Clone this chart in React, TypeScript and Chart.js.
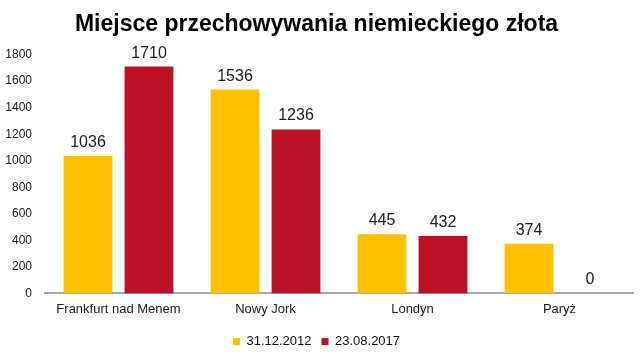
import React, { useEffect, useRef } from "react";
import { Chart, registerables } from "chart.js";

Chart.register(...registerables);

const categories = ["Frankfurt nad Menem", "Nowy Jork", "Londyn", "Paryż"];
const series2012 = [1036, 1536, 445, 374];
const series2017 = [1710, 1236, 432, 0];
const seriesLabels = ["31.12.2012", "23.08.2017"];
const titleText = "Miejsce przechowywania niemieckiego złota";

const FONT = "'Liberation Sans', Arial, sans-serif";

const valueLabels = {
  id: "valueLabels",
  afterDatasetsDraw(chart: any) {
    const ctx = chart.ctx;
    ctx.save();
    ctx.font = `16px ${FONT}`;
    ctx.fillStyle = "#222";
    ctx.textAlign = "center";
    ctx.textBaseline = "alphabetic";
    chart.data.datasets.forEach((ds: any, i: number) => {
      const meta = chart.getDatasetMeta(i);
      meta.data.forEach((bar: any, j: number) => {
        ctx.fillText(String(ds.data[j]), bar.x, bar.y - 9);
      });
    });
    ctx.restore();
  },
};

export default function App() {
  const ref = useRef<HTMLCanvasElement>(null);
  useEffect(() => {
    document.body.style.margin = "0";
    const chart = new Chart(ref.current!, {
      type: "bar",
      data: {
        labels: categories,
        datasets: [
          { label: seriesLabels[0], data: series2012, backgroundColor: "#FFC000" },
          { label: seriesLabels[1], data: series2017, backgroundColor: "#BA1127" },
        ],
      },
      options: {
        animation: false,
        responsive: false,
        maintainAspectRatio: false,
        layout: { padding: { left: 0, right: 7, top: 5, bottom: 0 } },
        datasets: { bar: { categoryPercentage: 0.83, barPercentage: 0.8 } } as any,
        scales: {
          x: {
            grid: { display: false, drawTicks: false },
            border: { display: true, color: "#A6A6A6", width: 2 },
            ticks: {
              color: "#222",
              font: { family: FONT, size: 13 },
              padding: 8,
            },
          },
          y: {
            min: 0,
            max: 1800,
            grid: { display: false, drawTicks: false },
            border: { display: false },
            afterFit: (s: any) => {
              s.width = 45;
            },
            ticks: {
              stepSize: 200,
              color: "#222",
              padding: 13,
              font: { family: FONT, size: 12 },
              callback: (v: any) => String(v),
            },
          },
        },
        plugins: {
          title: {
            display: true,
            text: titleText,
            color: "#000",
            font: { family: FONT, size: 23, weight: "bold" },
            padding: { top: 6, bottom: 16 },
          },
          legend: {
            position: "bottom",
            labels: {
              boxWidth: 7,
              boxHeight: 7,
              padding: 10,
              color: "#111",
              font: { family: FONT, size: 13 },
            },
          },
          tooltip: { enabled: false },
        },
      },
      plugins: [valueLabels],
    });
    return () => chart.destroy();
  }, []);
  return (
    <div style={{ width: 640, height: 358 }}>
      <canvas ref={ref} width={640} height={358} style={{ display: "block" }} />
    </div>
  );
}
